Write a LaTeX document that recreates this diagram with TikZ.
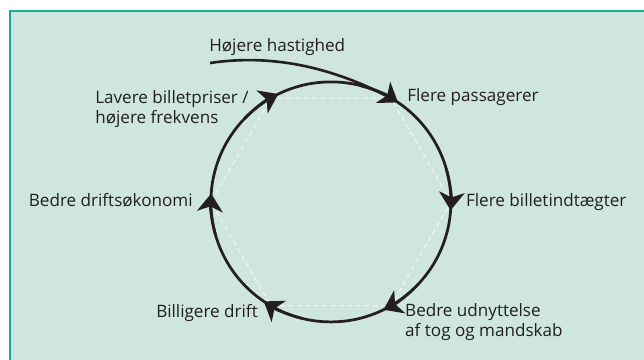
\documentclass[tikz,border=0pt]{standalone}
\usepackage{fontspec}
\setmainfont{Open Sans}
\usetikzlibrary{arrows.meta}
\definecolor{bggreen}{HTML}{CFE5DF}
\definecolor{framegreen}{HTML}{1BAA8C}
\definecolor{ink}{HTML}{231F20}
\begin{document}
\begin{tikzpicture}[lbl/.style={text=ink, font=\fontsize{16.2}{19.5}\selectfont, inner sep=0pt, align=left}]
    \useasboundingbox (0, 0) rectangle (21.467, 12);
    \fill[bggreen] (0.33, 0) rectangle (21.467, 11.63);
    \draw[framegreen, line width=1.5pt] (0.33, 0) -- (0.33, 11.63) -- (21.467, 11.63);
    \coordinate (c) at (11.03, 5.27);
    \coordinate (v1) at (13.03, 8.73);
    \draw[white, line width=0.7pt, dash pattern=on 4.5pt off 3.5pt, shift={(c)}]
      (0:4) -- (60:4) -- (120:4) -- (180:4) -- (240:4) -- (300:4) -- cycle;
    \draw[ink, line width=2.6pt] (c) circle (4);
    \foreach \a [evaluate=\a as \b using \a+16, evaluate=\a as \e using \a-4] in {60, 0, -60, -120, -180, -240}
      \draw[-{Stealth[length=0.6cm, width=0.85cm, inset=0.17cm]}, ink, line width=2.6pt, shift={(c)}] (\b:4) arc (\b:\e:4);
    \draw[ink, line width=2.5pt] (7.0, 9.9) .. controls (9.0, 10.2) and (11.0, 9.8) .. (v1);
    \node[lbl, anchor=base west] (speed) at (6.97, 10.27) {Højere hastighed};
    \node[lbl, anchor=base west] (pass) at (13.57, 8.6) {Flere passagerer};
    \node[lbl, anchor=base west] (income) at (15.53, 5.1) {Flere billetindtægter};
    \node[lbl, anchor=base west] (usage) at (13.5, 0.77) {Bedre udnyttelse\\af tog og mandskab};
    \node[lbl, anchor=base east] (cheap) at (8.6, 1.43) {Billigere drift};
    \node[lbl, anchor=base east] (econ) at (6.43, 5.1) {Bedre driftsøkonomi};
    \node[lbl, anchor=base west] (fares) at (3.17, 7.87) {Lavere billetpriser /\\højere frekvens};
  \end{tikzpicture}
\end{document}
